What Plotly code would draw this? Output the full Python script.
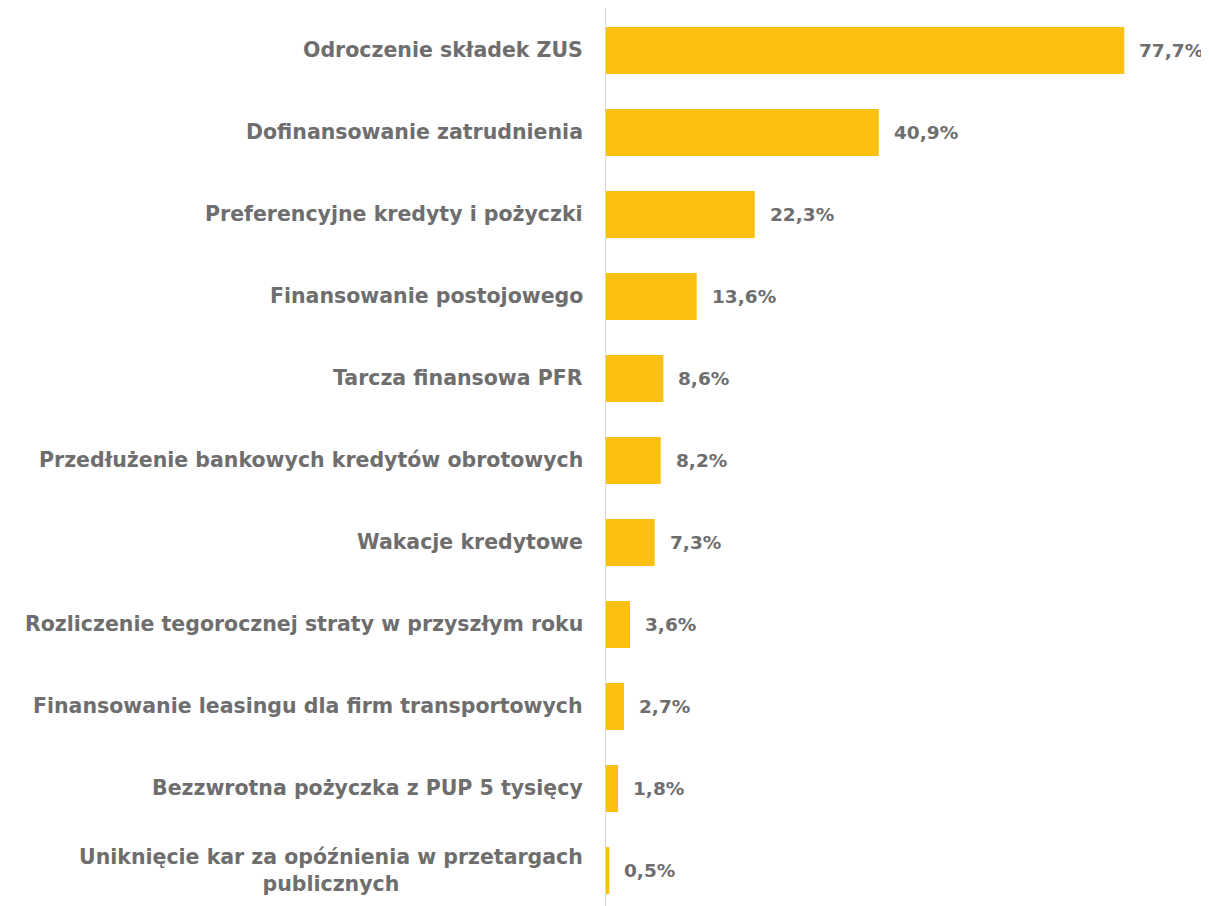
import plotly.graph_objects as go

categories = [
    "Odroczenie składek ZUS",
    "Dofinansowanie zatrudnienia",
    "Preferencyjne kredyty i pożyczki",
    "Finansowanie postojowego",
    "Tarcza finansowa PFR",
    "Przedłużenie bankowych kredytów obrotowych",
    "Wakacje kredytowe",
    "Rozliczenie tegorocznej straty w przyszłym roku",
    "Finansowanie leasingu dla firm transportowych",
    "Bezzwrotna pożyczka z PUP 5 tysięcy",
    "Uniknięcie kar za opóźnienia w przetargach<br>publicznych",
]
values = [77.7, 40.9, 22.3, 13.6, 8.6, 8.2, 7.3, 3.6, 2.7, 1.8, 0.5]
labels = [f"{v:.1f}%".replace(".", ",") for v in values]

TEXT = "#6e6e6e"
FONT = "DejaVu Sans"

fig = go.Figure(go.Bar(
    x=values, y=list(range(len(values))), orientation="h",
    marker=dict(color="#FCC012", line=dict(width=0)),
    width=0.573, hoverinfo="skip",
))

for i, (v, lab) in enumerate(zip(values, labels)):
    fig.add_annotation(x=v, y=i, xref="x", yref="y", text=f"<b>{lab}</b>",
                       showarrow=False, xanchor="left", xshift=13,
                       font=dict(family=FONT, size=18.5, color=TEXT))
for i, cat in enumerate(categories):
    fig.add_annotation(x=0, y=i, xref="paper", yref="y", text=f"<b>{cat}</b>",
                       showarrow=False, xanchor="right", align="center", xshift=-21,
                       font=dict(family=FONT, size=20.5, color=TEXT))

fig.update_layout(
    width=1201, height=898,
    margin=dict(l=598, r=0, t=0, b=0),
    paper_bgcolor="white", plot_bgcolor="white",
    showlegend=False,
    xaxis=dict(range=[0, 90.4], visible=False),
    yaxis=dict(range=[10.433, -0.518], showticklabels=False, showgrid=False,
               zeroline=False, showline=True, linecolor="#d9d9d9", linewidth=1,
               ticks=""),
)
fig.write_html("out.html")
